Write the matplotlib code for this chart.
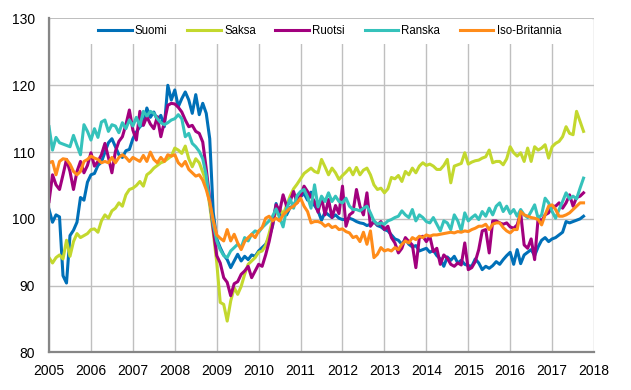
import numpy as np
import matplotlib
matplotlib.use('Agg')
import matplotlib.pyplot as plt
from matplotlib.patches import Rectangle

plt.rcParams['font.family'] = ['Liberation Sans', 'DejaVu Sans']

# monthly index values, Jan 2005 - Oct 2017
suomi = [
    101.4, 99.5, 100.6, 100.3, 91.5, 90.4, 97.5, 98.3, 99.5, 103.2, 102.8, 105.5,
    106.6, 106.8, 108.0, 108.5, 110.0, 111.4, 112.0, 110.8, 109.6, 109.2, 110.2, 110.4,
    112.0, 113.0, 113.8, 114.2, 116.6, 115.2, 116.0, 114.8, 115.5, 113.8, 120.0, 117.8,
    119.3, 116.8, 118.0, 119.0, 117.8, 115.8, 118.6, 115.6, 117.3, 115.8, 112.0, 101.0,
    97.0, 95.7, 94.6, 93.9, 92.7, 93.7, 94.7, 93.7, 94.4, 93.9, 94.6, 94.4,
    95.2, 95.7, 96.2, 97.2, 99.0, 102.3, 100.5, 101.0, 100.6, 101.7, 102.0, 103.0,
    103.3, 103.8, 102.8, 104.0, 102.0, 101.2, 99.8, 101.0, 100.6, 100.2, 100.6, 100.1,
    99.9, 99.9, 100.1, 99.9, 99.6, 99.4, 99.3, 99.0, 99.2, 99.6, 99.0, 98.8,
    98.4, 98.2, 97.6, 97.0, 96.8, 96.2, 97.0, 96.2, 95.8, 96.0, 95.2, 95.4,
    95.6, 95.0, 95.3, 94.5, 94.0, 92.9, 94.3, 93.8, 94.4, 93.4, 93.8, 93.2,
    93.0, 92.9, 94.0, 93.4, 92.4, 92.9, 92.6, 93.0, 93.6, 93.2, 93.9, 94.5,
    95.0, 93.2, 95.4, 93.3, 94.6, 95.0, 95.4, 94.5, 95.8, 96.8, 97.2, 96.6,
    97.0, 97.2, 97.6, 98.0, 99.6, 99.4, 99.6, 99.8, 100.0, 100.4]

saksa = [
    94.2, 93.4, 94.2, 94.6, 94.0, 96.8, 94.4, 96.6, 97.8, 97.2, 97.5, 97.8,
    98.4, 98.5, 98.0, 99.7, 100.6, 100.1, 101.2, 101.6, 102.4, 101.9, 103.6, 104.4,
    104.6, 105.0, 105.6, 104.9, 106.6, 107.0, 107.6, 108.0, 108.4, 108.6, 109.0, 109.4,
    110.6, 110.3, 109.8, 110.9, 109.0, 107.8, 109.0, 108.4, 107.0, 105.5, 102.0, 98.0,
    93.5, 87.5, 87.2, 84.7, 87.7, 89.7, 88.7, 89.9, 91.7, 93.2, 93.7, 94.2,
    95.0, 95.2, 96.0, 97.8, 99.8, 101.0, 101.6, 100.6, 102.0, 103.4, 104.5, 105.2,
    106.0, 106.8, 107.2, 107.6, 107.1, 106.9, 108.9, 107.8, 106.6, 107.6, 106.9, 105.9,
    106.5, 107.0, 107.6, 106.6, 107.7, 106.6, 107.3, 107.6, 106.6, 105.1, 104.4, 104.6,
    103.9, 104.5, 106.2, 106.0, 106.5, 105.6, 107.1, 106.6, 107.6, 106.9, 107.9, 108.4,
    108.0, 108.2, 107.9, 107.4, 107.4, 108.0, 108.9, 105.4, 107.9, 108.1, 108.3, 109.9,
    108.2, 108.5, 108.7, 108.8, 109.1, 109.3, 110.3, 108.4, 108.6, 108.6, 108.1, 109.0,
    110.8, 109.9, 109.4, 109.9, 108.6, 110.6, 108.6, 110.8, 110.3, 110.6, 111.1, 109.1,
    110.8, 111.3, 111.6, 112.3, 113.8, 112.8, 112.6, 116.1, 114.6, 113.1]

ruotsi = [
    102.6, 106.6, 105.1, 104.4, 106.6, 108.9, 107.1, 104.4, 107.1, 108.6, 106.9, 108.0,
    109.9, 107.9, 108.6, 109.6, 111.3, 109.2, 106.9, 110.1, 111.6, 112.3, 114.1, 116.3,
    113.3, 111.8, 116.1, 114.0, 115.3, 114.2, 113.5, 115.3, 112.3, 114.5, 117.0, 117.3,
    117.2, 116.7, 116.0, 114.8, 113.8, 114.0, 113.1, 112.8, 111.5, 107.5, 103.0, 98.5,
    94.5, 93.4, 91.2, 90.5, 88.5, 90.3, 90.6, 91.7, 92.2, 92.9, 91.2, 92.2,
    93.2, 92.9, 94.6, 96.6, 99.1, 102.1, 101.1, 103.6, 101.9, 102.6, 104.1, 102.4,
    103.4, 104.9, 104.1, 103.3, 102.6, 101.0, 103.2, 100.6, 102.9, 100.2, 102.0, 100.8,
    104.9, 98.9, 100.6, 101.0, 104.4, 101.9, 100.6, 103.9, 98.9, 99.6, 99.1, 99.6,
    98.4, 98.9, 97.2, 96.4, 94.9, 95.6, 97.2, 96.6, 96.1, 92.7, 97.2, 97.4,
    96.6, 97.4, 95.1, 95.6, 93.2, 94.6, 94.1, 93.2, 92.9, 93.4, 93.1, 96.4,
    92.4, 92.7, 93.6, 95.4, 98.2, 98.4, 94.9, 99.7, 99.7, 99.4, 99.2, 99.4,
    98.8, 98.6, 99.1, 100.9, 96.1, 95.6, 97.0, 93.9, 100.1, 99.7, 100.6, 100.9,
    101.9, 101.9, 102.4, 101.6, 102.4, 103.6, 101.9, 103.2, 103.4, 103.9]

ranska = [
    113.8, 110.3, 112.2, 111.4, 111.2, 111.0, 110.8, 112.5, 111.0, 109.6, 114.1, 113.1,
    111.8, 113.5, 112.2, 114.5, 114.8, 113.1, 114.1, 113.9, 112.9, 114.4, 113.5, 114.8,
    113.9, 115.2, 113.9, 116.1, 115.4, 116.1, 115.8, 115.0, 114.4, 114.1, 114.4, 114.8,
    115.0, 115.6, 115.0, 112.3, 112.8, 111.3, 110.8, 110.1, 109.0, 106.5, 102.5, 99.2,
    96.7, 95.4, 94.5, 94.2, 95.2, 95.7, 96.2, 95.7, 97.2, 96.7, 97.7, 98.2,
    98.0, 98.7, 99.2, 99.7, 100.4, 101.5, 100.2, 98.8, 101.5, 103.0, 101.6, 103.5,
    104.1, 104.4, 103.3, 101.6, 105.1, 101.8, 103.4, 102.6, 103.9, 102.6, 103.4, 102.6,
    102.4, 103.1, 101.9, 101.4, 101.4, 101.2, 101.6, 101.9, 100.9, 99.7, 99.2, 99.4,
    99.2, 99.7, 99.9, 100.2, 100.4, 101.2, 100.6, 100.2, 101.4, 99.7, 100.6, 100.2,
    99.6, 99.4, 100.2, 99.2, 98.2, 99.7, 99.4, 98.4, 100.6, 99.7, 98.2, 100.9,
    99.7, 100.2, 100.6, 99.9, 101.1, 100.4, 101.6, 100.6, 101.9, 102.4, 101.1, 101.9,
    100.8, 101.4, 100.4, 101.4, 100.6, 100.2, 101.1, 102.1, 100.1, 100.6, 103.1, 102.4,
    101.1, 100.1, 101.4, 102.6, 103.9, 103.0, 103.4, 103.0, 104.6, 106.1]

iso_britannia = [
    108.4, 108.6, 106.6, 108.6, 109.0, 108.9, 108.2, 107.1, 106.6, 107.1, 108.6, 108.9,
    109.4, 109.1, 108.9, 108.4, 108.6, 108.4, 109.2, 108.4, 109.2, 109.6, 109.2, 108.6,
    109.2, 108.9, 108.6, 109.5, 108.6, 110.0, 108.9, 108.4, 109.2, 108.6, 109.6, 109.4,
    109.6, 108.4, 107.9, 108.6, 107.4, 106.9, 106.4, 106.6, 105.8, 104.4, 102.5, 99.8,
    97.6, 97.1, 96.7, 98.4, 96.7, 97.7, 96.4, 95.4, 96.6, 97.2, 97.7, 97.2,
    98.2, 98.7, 100.1, 100.4, 99.7, 100.1, 99.7, 100.6, 101.1, 101.6, 101.9, 102.4,
    103.1, 101.9, 101.1, 99.4, 99.6, 99.6, 99.4, 98.9, 99.2, 98.7, 98.9, 98.4,
    98.5, 98.1, 97.9, 97.2, 97.4, 96.6, 98.0, 96.2, 98.2, 94.2, 94.7, 95.7,
    95.2, 95.4, 95.2, 95.7, 95.4, 96.2, 96.7, 96.4, 97.2, 96.9, 97.4, 97.2,
    97.6, 97.4, 97.6, 97.6, 97.7, 97.8, 97.9, 98.0, 97.9, 98.1, 98.0, 98.2,
    98.1, 98.4, 98.6, 98.9, 98.9, 99.2, 98.4, 99.2, 99.4, 99.4, 98.7, 98.2,
    97.9, 98.4, 98.4, 101.1, 100.6, 100.4, 100.2, 100.1, 99.9, 99.1, 100.6, 101.9,
    102.1, 101.4, 100.4, 100.4, 100.6, 100.9, 101.4, 101.9, 102.4, 102.4]

names = ['Suomi', 'Saksa', 'Ruotsi', 'Ranska', 'Iso-Britannia']
colors = ['#0070b8', '#c3d82e', '#a2007e', '#35c2bb', '#ff8c1a']
series = [suomi, saksa, ruotsi, ranska, iso_britannia]
years = list(range(2005, 2019))

t = 2005 + np.arange(len(suomi)) / 12.0

fig = plt.figure(figsize=(6.31, 3.90), dpi=100)
ax = fig.add_axes([0.0777, 0.0962, 0.8637, 0.8564])

for i, (name, vals, c) in enumerate(zip(names, series, colors)):
    ax.plot(t, vals, color=c, lw=2.2, label=name, zorder=2 + i * 0.1,
            solid_joinstyle='round')

ax.set_xlim(2005, 2018)
ax.set_ylim(80, 130)
ax.set_xticks(years)
ax.set_yticks(range(80, 131, 10))
ax.set_axisbelow(True)
ax.grid(True, color='#bfbfbf', lw=1.0)

for s in ['top', 'right']:
    ax.spines[s].set_visible(False)
for s in ['left', 'bottom']:
    ax.spines[s].set_color('#868686')
    ax.spines[s].set_linewidth(1.6)

ax.tick_params(axis='both', length=0, labelsize=10, colors='black')
ax.tick_params(axis='y', pad=10)
ax.tick_params(axis='x', pad=8)

# white band behind the legend
ax.add_patch(Rectangle((0.003, 0.925), 0.994, 0.072, transform=ax.transAxes,
                       facecolor='white', edgecolor='none', zorder=1))

leg = ax.legend(ncol=5, loc='center', bbox_to_anchor=(0.515, 0.962),
                frameon=False, fontsize=8.3, handlelength=2.9,
                columnspacing=1.7, handletextpad=0.3)

plt.savefig('out.png', dpi=100)
